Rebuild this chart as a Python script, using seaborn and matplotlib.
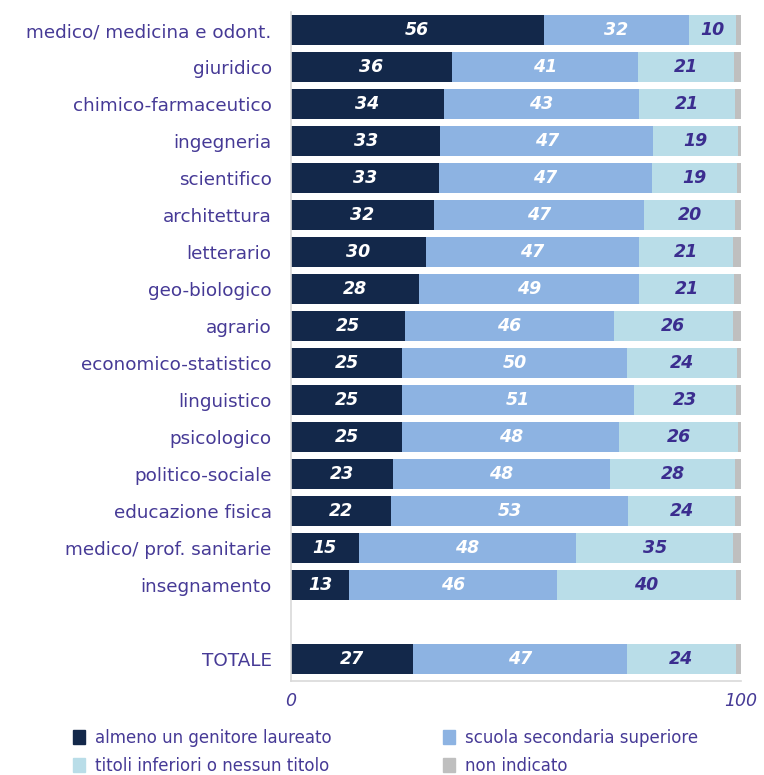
import numpy as np
import pandas as pd
import seaborn as sns
import matplotlib.pyplot as plt
from matplotlib.patches import Patch

# data (percentuali)
categories = ['medico/ medicina e odont.', 'giuridico', 'chimico-farmaceutico', 'ingegneria',
              'scientifico', 'architettura', 'letterario', 'geo-biologico', 'agrario',
              'economico-statistico', 'linguistico', 'psicologico', 'politico-sociale',
              'educazione fisica', 'medico/ prof. sanitarie', 'insegnamento', 'TOTALE']
laureato = [56.1, 35.7, 33.9, 33.2, 32.8, 31.7, 29.9, 28.4, 25.3, 24.7, 24.7, 24.7, 22.6, 22.2, 15.0, 12.9, 27.2]
secondaria = [32.4, 41.4, 43.4, 47.3, 47.3, 46.7, 47.4, 48.9, 46.4, 49.9, 51.4, 48.2, 48.3, 52.7, 48.4, 46.3, 47.4]
inferiori = [10.4, 21.3, 21.3, 18.8, 18.9, 20.3, 21.0, 21.2, 26.4, 24.4, 22.8, 26.4, 27.8, 23.8, 34.9, 39.6, 24.3]
non_indicato = [1.1, 1.6, 1.4, 0.7, 1.0, 1.3, 1.7, 1.5, 1.9, 1.0, 1.1, 0.7, 1.3, 1.3, 1.7, 1.2, 1.1]
series_names = ['almeno un genitore laureato', 'scuola secondaria superiore',
                'titoli inferiori o nessun titolo', 'non indicato']

colors = ['#13284a', '#8db3e2', '#b9dde8', '#bfbfbf']
label_colors = ['white', 'white', '#3b2d8f', None]
txt_col = '#463a96'

sns.set_style('white')
plt.rcParams['font.family'] = ['DejaVu Sans']

# gap of one row before TOTALE
pos = list(range(len(categories) - 1)) + [len(categories)]
df = pd.DataFrame({'cat': categories, 'pos': pos, 'laureato': laureato, 'secondaria': secondaria,
                   'inferiori': inferiori, 'non_indicato': non_indicato})
cols = ['laureato', 'secondaria', 'inferiori', 'non_indicato']

fig = plt.figure(figsize=(7.64, 7.75), dpi=100)
ax = fig.add_axes([0.381, 0.1213, 0.589, 0.8632])

left = np.zeros(len(df))
for i, c in enumerate(cols):
    sns.barplot(data=df, x=c, y='pos', orient='y', native_scale=True, left=left,
                color=colors[i], saturation=1, width=0.81, errorbar=None, ax=ax,
                linewidth=0)
    if label_colors[i]:
        for yy, l, v in zip(df['pos'], left, df[c]):
            ax.text(l + v / 2, yy, f'{v:.0f}', ha='center', va='center', color=label_colors[i],
                    fontsize=12.5, fontweight='bold', fontstyle='italic')
    left = left + df[c].values

ax.set_xlim(0, 100)
ax.set_ylim(len(categories) + 0.59, -0.49)
ax.set_yticks(pos)
ax.set_yticklabels(categories, color=txt_col, fontsize=13.2)
ax.tick_params(axis='y', length=0, pad=14)
ax.set_xticks([0, 100])
ax.set_xticklabels(['0', '100'], color=txt_col, fontsize=12.5, fontstyle='italic')
ax.tick_params(axis='x', length=3, color='#c8c8c8', pad=5)
ax.set_xlabel('')
ax.set_ylabel('')
for s in ['top', 'right']:
    ax.spines[s].set_visible(False)
for s in ['left', 'bottom']:
    ax.spines[s].set_color('#d9d9d9')
    ax.spines[s].set_linewidth(1.2)

handles = [Patch(color=colors[k]) for k in [0, 2, 1, 3]]
labels = [series_names[k] for k in [0, 2, 1, 3]]
leg = fig.legend(handles, labels, ncol=2, loc='upper left', bbox_to_anchor=(0.085, 0.07),
                 frameon=False, fontsize=12, handlelength=0.7, handleheight=0.9,
                 handletextpad=0.6, columnspacing=6.7, labelspacing=0.6, borderpad=0)
for t in leg.get_texts():
    t.set_color(txt_col)

plt.savefig('out.png', dpi=100)
